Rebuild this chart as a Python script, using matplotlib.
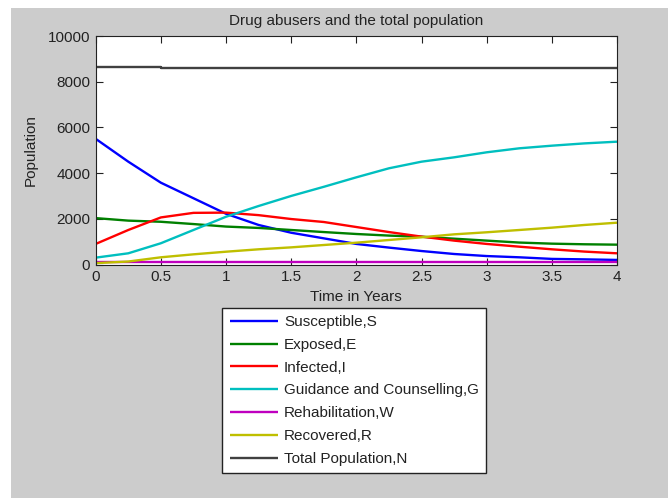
import matplotlib
matplotlib.use("Agg")
import matplotlib.pyplot as plt
from matplotlib.patches import Rectangle

plt.rcParams['font.family'] = ['Liberation Sans', 'DejaVu Sans']

# Time grid (years)
t = [0, 0.25, 0.5, 0.75, 1, 1.25, 1.5, 1.75, 2, 2.25, 2.5, 2.75, 3, 3.25, 3.5, 3.75, 4]

susceptible = [5500, 4500, 3580, 2900, 2220, 1730, 1390, 1145, 900, 740, 590, 460, 370, 315, 245, 225, 200]
exposed = [2030, 1920, 1870, 1770, 1660, 1600, 1510, 1420, 1335, 1265, 1215, 1130, 1045, 960, 912, 885, 868]
infected = [900, 1510, 2060, 2260, 2270, 2160, 1990, 1860, 1640, 1420, 1220, 1045, 900, 780, 665, 565, 490]
guidance = [300, 490, 930, 1510, 2090, 2560, 3000, 3400, 3815, 4210, 4500, 4690, 4910, 5085, 5200, 5300, 5375]
rehab = [120, 120, 120, 120, 120, 120, 120, 120, 120, 120, 120, 120, 120, 120, 120, 120, 120]
recovered = [60, 130, 315, 445, 560, 665, 750, 853, 955, 1072, 1190, 1320, 1410, 1510, 1612, 1730, 1830]
total = [8660, 8660, 8600, 8600, 8600, 8600, 8600, 8600, 8600, 8600, 8600, 8600, 8600, 8600, 8600, 8600, 8600]

labels = ['Susceptible,S', 'Exposed,E', 'Infected,I', 'Guidance and Counselling,G',
          'Rehabilitation,W', 'Recovered,R', 'Total Population,N']
colors = ['#0000ff', '#008000', '#ff0000', '#00bfbf', '#bf00bf', '#bfbf00', '#404040']

FS = 11
W, H = 668, 498
fig = plt.figure(figsize=(W / 100, H / 100), dpi=100)
fig.patch.set_facecolor('white')
fig.patches.append(Rectangle((11 / W, 0), 1 - 11 / W, 1 - 8 / H, transform=fig.transFigure,
                             facecolor='#cccccc', edgecolor='none', zorder=-10))

ax = fig.add_axes([95.7 / W, 1 - 264.5 / H, (617 - 95.7) / W, (264.5 - 36) / H])
ax.set_facecolor('white')

series = [susceptible, exposed, infected, guidance, rehab, recovered, total]
handles = []
for y, c, lab in zip(series, colors, labels):
    ds = 'steps-post' if lab.startswith('Total') else 'default'
    h, = ax.plot(t, y, color=c, lw=1.7, label=lab, drawstyle=ds, solid_capstyle='butt')
    handles.append(h)

ax.set_xlim(0, 4)
ax.set_ylim(0, 10000)
ax.set_xticks([0, 0.5, 1, 1.5, 2, 2.5, 3, 3.5, 4])
ax.set_xticklabels(['0', '0.5', '1', '1.5', '2', '2.5', '3', '3.5', '4'])
ax.set_yticks([0, 2000, 4000, 6000, 8000, 10000])
ax.tick_params(direction='in', top=True, right=True, length=5, width=0.8,
               labelsize=FS, colors='#222222', pad=4)
for s in ax.spines.values():
    s.set_color('#222222')
    s.set_linewidth(0.8)

ax.set_title('Drug abusers and the total population', fontsize=FS, color='#222222', pad=8)
ax.set_xlabel('Time in Years', fontsize=FS, color='#222222', labelpad=4)
ax.set_ylabel('Population', fontsize=FS, color='#222222', labelpad=7)

leg = fig.legend(handles=handles, labels=labels, loc='upper left',
                 bbox_to_anchor=(222 / W, 1 - 307.5 / H), borderaxespad=0,
                 fontsize=FS, frameon=True, fancybox=False, framealpha=1,
                 edgecolor='#222222', handlelength=3.15, handletextpad=0.4,
                 labelspacing=0.575, borderpad=0.5)
leg.get_frame().set_linewidth(1.0)
for txt in leg.get_texts():
    txt.set_color('#222222')

fig.savefig('out.png', dpi=100, facecolor=fig.get_facecolor())
